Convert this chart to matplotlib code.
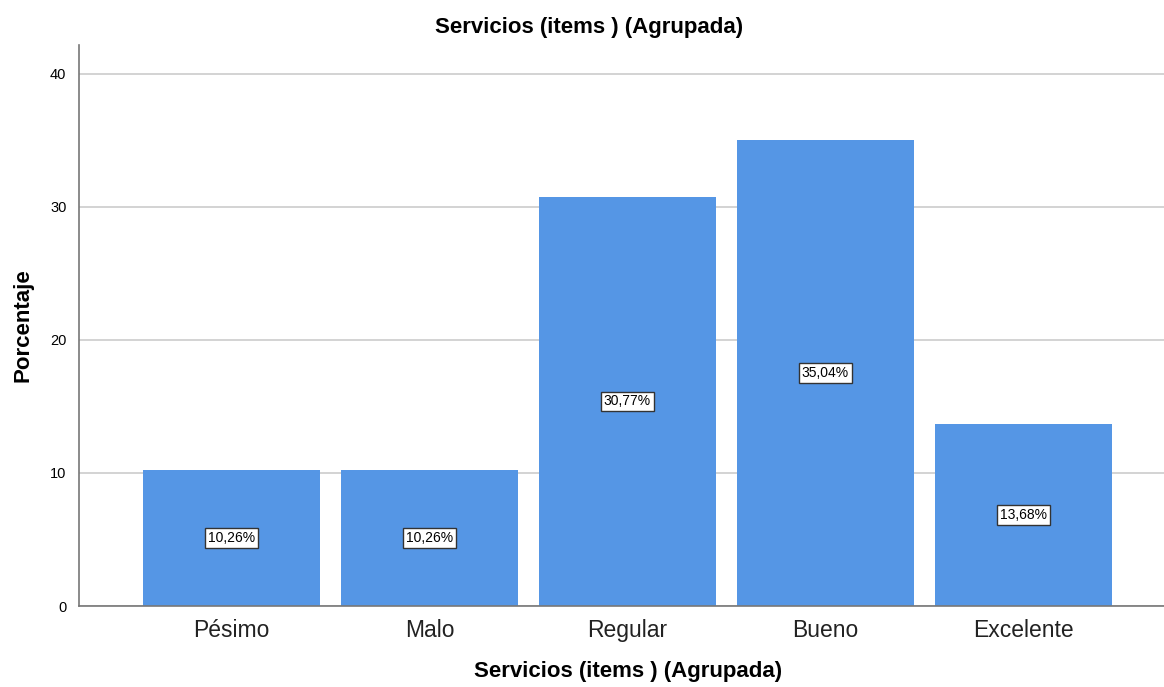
import matplotlib
matplotlib.use("Agg")
import matplotlib.pyplot as plt

# --- Data -------------------------------------------------------------------
categories = ["Pésimo", "Malo", "Regular", "Bueno", "Excelente"]
percentages = [10.26, 10.26, 30.77, 35.04, 13.68]
bar_labels = ["10,26%", "10,26%", "30,77%", "35,04%", "13,68%"]
y_ticks = [0, 10, 20, 30, 40]

plt.rcParams["font.family"] = ["Liberation Sans", "DejaVu Sans"]

fig = plt.figure(figsize=(11.64, 6.87), dpi=100)
ax = fig.add_axes([79 / 1164, 1 - 606 / 687, 1 - 79 / 1164, (606 - 45) / 687])

x = range(len(categories))
ax.bar(x, percentages, width=0.894, color="#5596e5", zorder=2)

for xi, v, lab in zip(x, percentages, bar_labels):
    ax.text(xi, v / 2, lab, ha="center", va="center", fontsize=10, color="black",
            zorder=3,
            bbox=dict(boxstyle="square,pad=0.2", facecolor="white",
                      edgecolor="#333333", linewidth=1))

ax.set_xlim(-0.770, 4.710)
ax.set_ylim(0, 42.18)
ax.set_yticks(y_ticks)
ax.set_xticks(list(x))
ax.set_xticklabels(categories, fontsize=16.5, color="#222222", va="baseline")
ax.tick_params(axis="y", length=0, labelsize=10.5, pad=9)
ax.tick_params(axis="x", length=0, pad=22)
ax.grid(axis="y", color="#cccccc", linewidth=1.2, zorder=0)

for side in ["top", "right"]:
    ax.spines[side].set_visible(False)
for side in ["left", "bottom"]:
    ax.spines[side].set_color("#777777")
    ax.spines[side].set_linewidth(1.2)

ax.set_ylabel("Porcentaje", fontsize=16, fontweight="bold", labelpad=12)
ax.set_xlabel("Servicios (items ) (Agrupada)", fontsize=16, fontweight="bold",
              va="center")
ax.xaxis.set_label_coords(0.506, -0.1176)
fig.text(589 / 1164, 1 - 28 / 687, "Servicios (items ) (Agrupada)", ha="center",
         va="center", fontsize=16, fontweight="bold")

fig.savefig("out.png", dpi=100)
